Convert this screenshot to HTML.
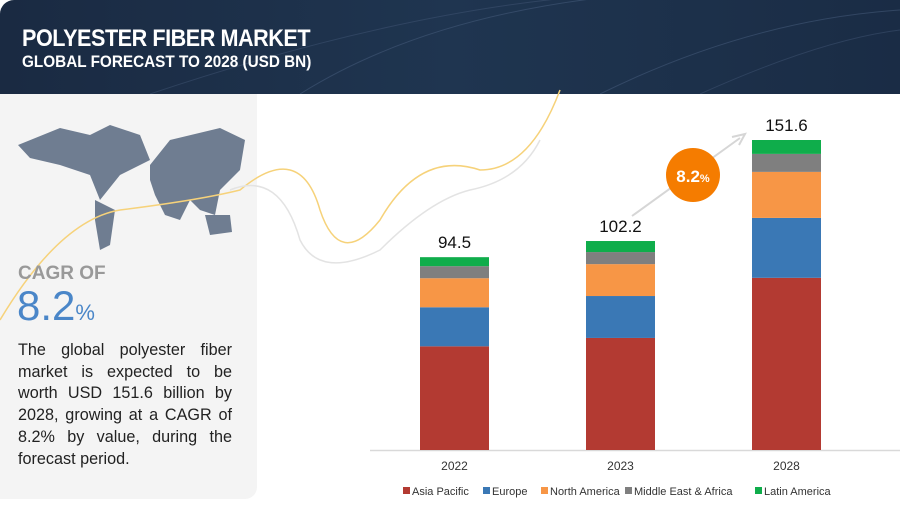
<!DOCTYPE html>
<html><head><meta charset="utf-8">
<style>
body{margin:0;width:900px;height:511px;overflow:hidden;background:#fff;font-family:"Liberation Sans",sans-serif;position:relative}
#header{position:absolute;left:0;top:0;width:900px;height:94px;background:linear-gradient(90deg,#1a2a42,#1f3550 50%,#1a2c45);border-top-left-radius:14px;overflow:hidden}
#title{position:absolute;left:22px;top:25px;color:#fff;font-weight:bold;font-size:24px;letter-spacing:-0.5px;transform:scaleX(0.9);transform-origin:left}
#subtitle{position:absolute;left:22px;top:52px;color:#fff;font-size:17px;font-weight:bold;transform:scaleX(0.9);transform-origin:left}
#left{position:absolute;left:0;top:94px;width:257px;height:405px;background:#f4f4f4;border-bottom-right-radius:12px}
#cagr-label{position:absolute;left:18px;top:263px;color:#999;font-size:19px;font-weight:bold}
#cagr-val{position:absolute;left:17px;top:282px;color:#4a86c8;font-size:42px}
#cagr-val span{font-size:22px}
#desc{position:absolute;left:18px;top:340px;width:214px;font-size:16.2px;line-height:21.7px;color:#222;text-align:justify}
</style></head><body>
<div id="header">
<svg width="900" height="94" style="position:absolute;left:0;top:0">
<path d="M300 94 Q450 0 700 -10" stroke="#4a6080" fill="none" opacity=".5"/>
<path d="M150 94 Q400 10 600 -5" stroke="#4a6080" fill="none" opacity=".4"/>
<path d="M600 94 Q750 20 900 10" stroke="#4a6080" fill="none" opacity=".5"/>
<path d="M700 94 Q820 40 900 30" stroke="#4a6080" fill="none" opacity=".4"/>
</svg>
<div id="title">POLYESTER FIBER MARKET</div>
<div id="subtitle">GLOBAL FORECAST TO 2028 (USD BN)</div>
</div>
<div id="left"></div>
<svg id="deco" width="900" height="511" style="position:absolute;left:0;top:0">
<path d="M18 145 L60 128 L90 135 L110 125 L140 135 L150 160 L120 175 L100 200 L90 175 L60 165 L30 158 Z M95 200 L115 210 L110 245 L100 250 L95 220 Z M150 165 L170 140 L220 128 L245 140 L240 170 L220 190 L215 215 L200 210 L190 200 L180 220 L165 215 L155 195 L150 180 Z M205 215 L230 215 L232 232 L210 235 Z" fill="#6f7d91"/>
<path d="M0 320 Q60 220 120 210 Q200 200 240 190 Q300 140 320 210 Q340 270 380 220 Q420 150 480 170 Q530 170 560 90" stroke="#f6d27a" fill="none" stroke-width="1.5"/>
<path d="M230 190 Q280 170 300 240 Q320 280 380 250 Q430 200 470 190 Q520 180 540 140" stroke="#e3e3e3" fill="none" stroke-width="1.5"/>
</svg>
<div id="cagr-label">CAGR OF</div>
<div id="cagr-val">8.2<span>%</span></div>
<div id="desc">The global polyester fiber market is expected to be worth USD 151.6 billion by 2028, growing at a CAGR of 8.2% by value, during the forecast period.</div>
<svg id="chart" width="900" height="511" style="position:absolute;left:0;top:0"></svg>
<script>
const years=["2022","2023","2028"];
const totals=["94.5","102.2","151.6"];
const seriesNames=["Asia Pacific","Europe","North America","Middle East & Africa","Latin America"];
const asiaPacific=[50.7,54.8,84.2];
const europe=[19.1,20.5,29.3];
const northAmerica=[14.2,15.6,22.5];
const mea=[5.9,5.9,8.8];
const latam=[4.4,5.4,6.8];
const series=[asiaPacific,europe,northAmerica,mea,latam];
const colors=["#b33a32","#3a78b5","#f79646","#7f7f7f","#0fad4b"];
const NS="http://www.w3.org/2000/svg";
const svg=document.getElementById('chart');
const base=450, scale=310/151.6;
const y=v=>base-v*scale;
const xCenter=i=>454.5+i*166;
const bw=69;
function mk(t,a){const e=document.createElementNS(NS,t);for(const k in a)e.setAttribute(k,a[k]);svg.appendChild(e);return e;}
const axis=mk('line',{x1:370,x2:900,y1:450.5,y2:450.5,stroke:'#d9d9d9','stroke-width':1.5});


years.forEach((yr,i)=>{
 let cum=0;
 series.forEach((s,j)=>{
  const r=mk('rect',{x:xCenter(i)-bw/2,y:y(cum+s[i]),width:bw,height:s[i]*scale,fill:colors[j]});
  
  
  cum+=s[i];
 });
 const t=mk('text',{x:xCenter(i),y:y(cum)-9,'text-anchor':'middle','font-size':17,fill:'#111'});
 t.textContent=totals[i];
 
 
 const xl=mk('text',{x:xCenter(i),y:470,'text-anchor':'middle','font-size':12,fill:'#333'});
 xl.textContent=yr;
 
 
});
const arrow=mk('path',{d:'M632 216 L740 138 M732 137 L745 134 L739 145',stroke:'#d6d6d6','stroke-width':2,fill:'none'});


const circ=mk('circle',{cx:693,cy:175,r:27,fill:'#f57c00'});


const ct=mk('text',{x:693,y:182,'text-anchor':'middle','font-size':17,'font-weight':'bold',fill:'#fff'});
ct.innerHTML='8.2<tspan font-size="11">%</tspan>';


const lx=[403,483,541,625,755];
seriesNames.forEach((n,j)=>{
 const g=document.createElementNS(NS,'g');svg.appendChild(g);
 
 
 const r=document.createElementNS(NS,'rect');
 r.setAttribute('x',lx[j]);r.setAttribute('y',487);r.setAttribute('width',7);r.setAttribute('height',7);r.setAttribute('fill',colors[j]);
 g.appendChild(r);
 const t=document.createElementNS(NS,'text');
 t.setAttribute('x',lx[j]+9);t.setAttribute('y',495);t.setAttribute('font-size',11);t.setAttribute('fill','#333');
 t.textContent=n;g.appendChild(t);
});
</script>
</body></html>
